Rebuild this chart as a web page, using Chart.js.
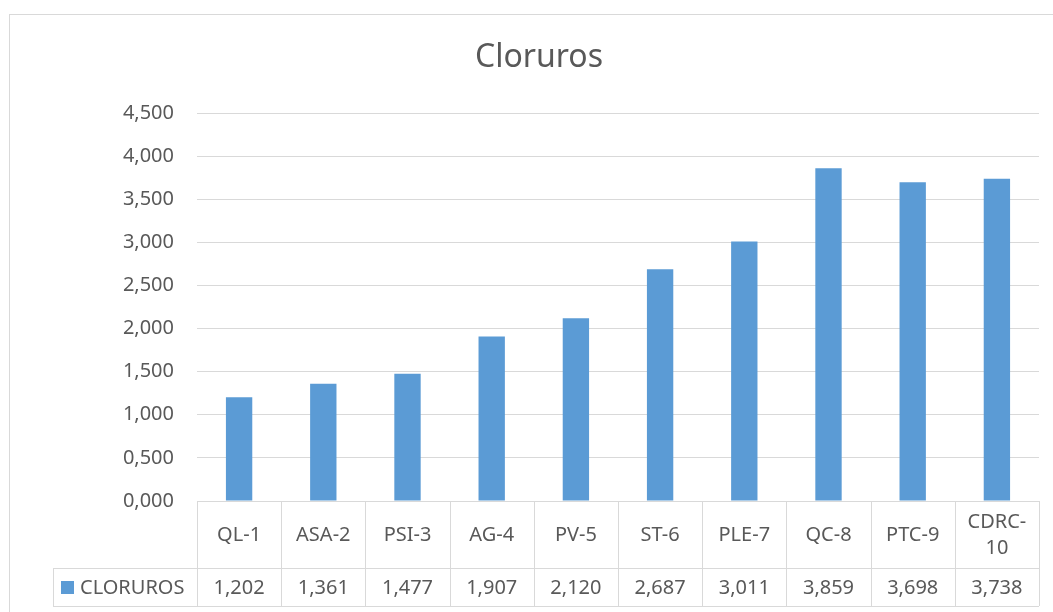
<!DOCTYPE html>
<html>
<head>
<meta charset="utf-8">
<script src="https://cdn.jsdelivr.net/npm/chart.js@4.4.1/dist/chart.umd.min.js"></script>
<style>
  html, body { margin: 0; padding: 0; background: #fff; }
  #wrap { width: 1053px; height: 612px; }
</style>
</head>
<body>
<div id="wrap"><canvas id="c" width="1053" height="612"></canvas></div>
<script>
const categories = ['QL-1', 'ASA-2', 'PSI-3', 'AG-4', 'PV-5', 'ST-6', 'PLE-7', 'QC-8', 'PTC-9', ['CDRC-', '10']];
const seriesName = 'CLORUROS';
const cloruros = [1.202, 1.361, 1.477, 1.907, 2.120, 2.687, 3.011, 3.859, 3.698, 3.738];
const yMin = 0;
const yMax = 4.5;
const yStep = 0.5;
const chartTitle = 'Cloruros';

const textColor = '#595959';
const lineColor = '#d9d9d9';
const barColor = '#5b9bd5';
const fontFamily = "'Noto Sans', sans-serif";

// comma as decimal separator, like the source sheet
const fmt = v => v.toFixed(3).replace('.', ',');

// draws the outer frame, the title and the data table under the plot
const tablePlugin = {
    id: 'dataTable',
    beforeDraw(chart) {
        const ctx = chart.ctx;
        ctx.save();
        ctx.strokeStyle = lineColor;
        ctx.lineWidth = 1;
        ctx.strokeRect(9.5, 14.5, 1100, 700);
        // title is centred on the frame, not on the canvas
        ctx.fillStyle = textColor;
        ctx.font = '32px ' + fontFamily;
        ctx.textAlign = 'center';
        ctx.textBaseline = 'middle';
        ctx.fillText(chartTitle, 539, 58);
        ctx.restore();
    },
    afterDraw(chart) {
        const ctx = chart.ctx;
        const x = chart.scales.x;
        const area = chart.chartArea;
        const n = categories.length;
        const colW = (area.right - area.left) / n;
        const top = Math.round(area.bottom);
        const mid = top + 67;
        const bottom = top + 105;
        const legendLeft = 53;

        ctx.save();
        ctx.strokeStyle = lineColor;
        ctx.lineWidth = 1;
        ctx.beginPath();
        // vertical column lines
        for (let i = 0; i <= n; i++) {
            const px = Math.round(area.left + i * colW) + 0.5;
            ctx.moveTo(px, top);
            ctx.lineTo(px, bottom);
        }
        ctx.moveTo(legendLeft + 0.5, mid);
        ctx.lineTo(legendLeft + 0.5, bottom);
        ctx.moveTo(legendLeft, mid + 0.5);
        ctx.lineTo(area.right, mid + 0.5);
        ctx.moveTo(legendLeft, bottom + 0.5);
        ctx.lineTo(area.right, bottom + 0.5);
        ctx.stroke();

        // value row
        ctx.fillStyle = textColor;
        ctx.font = '20px ' + fontFamily;
        ctx.textAlign = 'center';
        ctx.textBaseline = 'middle';
        const rowY = (mid + bottom) / 2 + 1;
        cloruros.forEach((v, i) => {
            ctx.fillText(fmt(v), x.getPixelForValue(i), rowY);
        });

        // legend key
        ctx.fillStyle = barColor;
        ctx.fillRect(61, rowY - 7, 13, 13);
        ctx.fillStyle = textColor;
        ctx.textAlign = 'left';
        ctx.fillText(seriesName, 80, rowY);
        ctx.restore();
    }
};

new Chart(document.getElementById('c').getContext('2d'), {
    type: 'bar',
    data: {
        labels: categories,
        datasets: [{
            label: seriesName,
            data: cloruros,
            backgroundColor: barColor,
            borderWidth: 0,
            categoryPercentage: 1,
            barPercentage: 0.313
        }]
    },
    options: {
        responsive: false,
        animation: false,
        layout: {
            padding: { left: 0, right: 14, top: 113, bottom: 6 }
        },
        plugins: {
            legend: { display: false },
            tooltip: { enabled: false },
            title: { display: false }
        },
        scales: {
            x: {
                grid: { display: false },
                border: { display: true, color: lineColor },
                ticks: {
                    color: textColor,
                    font: { family: fontFamily, size: 20, lineHeight: 1.3 },
                    maxRotation: 0,
                    autoSkip: false,
                    crossAlign: 'center',
                    padding: 13
                },
                afterFit(scale) { scale.height = 105; }
            },
            y: {
                min: yMin,
                max: yMax,
                border: { display: false },
                grid: { color: lineColor, drawTicks: false },
                ticks: {
                    stepSize: yStep,
                    color: textColor,
                    font: { family: fontFamily, size: 20 },
                    padding: 23,
                    callback: v => fmt(v)
                },
                afterFit(scale) { scale.width = 197; }
            }
        }
    },
    plugins: [tablePlugin]
});
</script>
</body>
</html>
